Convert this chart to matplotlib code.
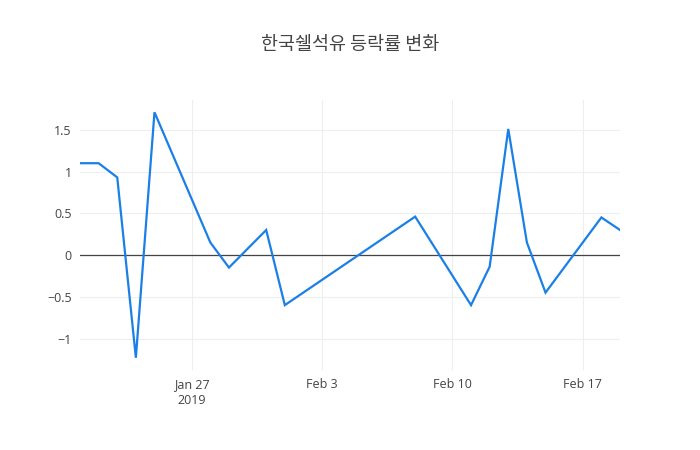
import matplotlib
matplotlib.use("Agg")
import matplotlib.pyplot as plt
import pandas as pd

dates = ["2019-01-21", "2019-01-22", "2019-01-23", "2019-01-24", "2019-01-25",
         "2019-01-28", "2019-01-29", "2019-01-31", "2019-02-01", "2019-02-08",
         "2019-02-11", "2019-02-12", "2019-02-13", "2019-02-14", "2019-02-15",
         "2019-02-18", "2019-02-19"]
change = [1.10, 1.10, 0.93, -1.23, 1.71,
          0.15, -0.15, 0.30, -0.60, 0.46,
          -0.60, -0.14, 1.51, 0.15, -0.45,
          0.45, 0.30]
y_ticks = [-1, -0.5, 0, 0.5, 1, 1.5]
y_labels = ["\u22121", "\u22120.5", "0", "0.5", "1", "1.5"]
x_ticks = ["2019-01-27", "2019-02-03", "2019-02-10", "2019-02-17"]
x_labels = ["Jan 27\n2019", "Feb 3", "Feb 10", "Feb 17"]
title = "한국쉘석유 등락률 변화"

W, H = 700, 450
fig = plt.figure(figsize=(W / 100, H / 100), dpi=100)
ax = fig.add_axes([80 / W, 80 / H, 540 / W, 270 / H])

x = pd.to_datetime(dates)
ax.plot(x, change, color="#1a7fe6", linewidth=1.6, solid_joinstyle="miter")

lo, hi = min(change), max(change)
pad = (hi - lo) * 0.05
ax.set_ylim(lo - pad, hi + pad)
ax.set_xlim(x[0], x[-1])

ax.axhline(0, color="#444444", linewidth=0.9, zorder=1)
ax.set_yticks(y_ticks)
ax.set_yticklabels(y_labels)
ax.set_xticks(pd.to_datetime(x_ticks))
ax.set_xticklabels(x_labels)
ax.grid(True, color="#eeeeee", linewidth=0.8, zorder=0)
ax.set_axisbelow(True)
for s in ax.spines.values():
    s.set_visible(False)
ax.tick_params(length=0, labelsize=9, labelcolor="#444444", pad=6)
for lab in ax.get_xticklabels() + ax.get_yticklabels():
    lab.set_family(["Open Sans", "DejaVu Sans"])
for lab in ax.get_xticklabels():
    lab.set_linespacing(1.3)

fig.text(0.5, 1 - 45 / H, title, ha="center", va="center", fontsize=13.3,
         color="#444444", family=["Noto Sans CJK KR", "DejaVu Sans"])

fig.savefig("out.png", dpi=100)
